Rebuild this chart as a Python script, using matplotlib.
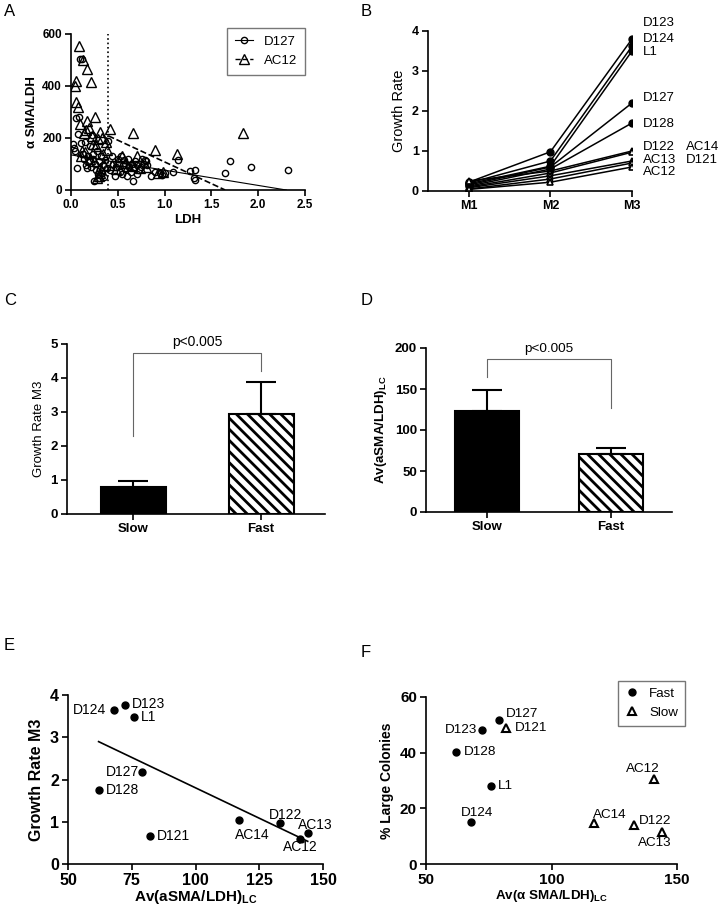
import numpy as np
import matplotlib.pyplot as plt

plt.rcParams['font.family'] = ['Liberation Sans', 'DejaVu Sans']
plt.rcParams['hatch.linewidth'] = 2.0
plt.rcParams['axes.linewidth'] = 1.2

# ---- panel A: aSMA/LDH vs LDH for two lines
d127_ldh = [0.02, 0.03, 0.04, 0.06, 0.05, 0.09, 0.08, 0.10, 0.12, 0.11, 0.13, 0.14, 0.15, 0.16,
            0.17, 0.18, 0.19, 0.20, 0.21, 0.22, 0.23, 0.24, 0.25, 0.26, 0.27, 0.28, 0.29, 0.30,
            0.30, 0.31, 0.32, 0.33, 0.34, 0.35, 0.36, 0.38, 0.40, 0.42, 0.44, 0.45, 0.47, 0.48,
            0.50, 0.52, 0.53, 0.55, 0.56, 0.57, 0.58, 0.60, 0.61, 0.62, 0.64, 0.65, 0.66, 0.67,
            0.68, 0.70, 0.71, 0.73, 0.75, 0.76, 0.78, 0.79, 0.80, 0.81, 0.85, 0.90, 0.95, 0.97,
            1.00, 1.09, 1.14, 1.27, 1.32, 1.31, 1.32, 1.65, 1.70, 1.92, 2.32]
d127_ratio = [175, 160, 150, 85, 275, 280, 215, 505, 505, 180, 140, 120, 185, 95,
              85, 130, 110, 170, 90, 210, 140, 120, 36, 100, 75, 150, 60, 46,
              110, 80, 130, 65, 95, 50, 115, 85, 190, 78, 130, 100, 52, 90,
              120, 70, 130, 60, 95, 115, 80, 55, 120, 90, 70, 100, 33, 85,
              110, 60, 95, 75, 90, 120, 100, 116, 110, 95, 52, 70, 65, 59,
              65, 69, 116, 74, 75, 46, 40, 65, 110, 87, 78]
ac12_ldh = [0.04, 0.05, 0.05, 0.07, 0.085, 0.125, 0.17, 0.21, 0.26, 0.17, 0.10, 0.42, 0.66,
            1.84, 0.31, 0.14, 0.22, 0.29, 0.37, 0.33, 0.90, 1.13, 0.38, 0.27, 0.15, 0.11,
            0.70, 0.54, 0.44, 0.93, 0.31, 0.61, 0.74, 0.31, 0.20, 0.12, 0.25, 0.35, 0.30,
            0.28, 0.50, 0.58, 0.65, 0.48, 0.80, 0.98, 0.34, 0.24, 0.19, 0.16]
ac12_ratio = [400, 421, 339, 321, 555, 500, 464, 416, 280, 264, 252, 234, 221,
              221, 222, 219, 209, 197, 184, 200, 155, 137, 155, 168, 148, 129,
              129, 129, 97, 65, 84, 91, 84, 65, 120, 150, 110, 95, 55,
              45, 110, 105, 95, 80, 90, 70, 140, 175, 240, 230]
d127_fit = (135.0, -58.7)    # intercept, slope
ac12_fit = (275.0, -167.0)
ldh_cut = 0.4

# ---- panel B: growth rate per month
b_names = ['D123', 'D124', 'L1', 'D127', 'D128', 'D122', 'AC14', 'AC13', 'D121', 'AC12']
b_m1 = [0.22, 0.20, 0.18, 0.15, 0.12, 0.25, 0.10, 0.08, 0.05, 0.04]
b_m2 = [0.98, 0.75, 0.62, 0.60, 0.55, 0.50, 0.45, 0.38, 0.30, 0.22]
b_m3 = [3.80, 3.62, 3.50, 2.20, 1.70, 1.00, 0.97, 0.75, 0.70, 0.60]
b_fast = [True, True, True, True, True, False, False, False, False, False]
months = ['M1', 'M2', 'M3']

# ---- panels C, D: group means
groups = ['Slow', 'Fast']
growth_mean = [0.80, 2.95]
growth_sem = [0.18, 0.93]
ratio_mean = [123, 71]
ratio_sem = [26, 7]

# ---- panels E, F: per sample
samples = ['D124', 'D123', 'L1', 'D127', 'D128', 'D121', 'AC14', 'D122', 'AC13', 'AC12']
av_ratio = [68.0, 72.5, 75.8, 79.0, 62.0, 82.0, 117.0, 133.0, 144.0, 141.0]
growth_m3 = [3.64, 3.76, 3.47, 2.17, 1.74, 0.67, 1.03, 0.96, 0.73, 0.60]
large_col = [15.2, 48.0, 28.2, 51.6, 40.4, 49.0, 14.6, 14.0, 11.4, 30.5]
f_fast = [True, True, True, True, True, False, False, False, False, False]

W, H = 718, 907
fig = plt.figure(figsize=(W / 100, H / 100), dpi=100)


def box(l, r, t, b):
    return [l / W, 1 - b / H, (r - l) / W, (b - t) / H]


def style(ax, fs):
    for s in ['top', 'right']:
        ax.spines[s].set_visible(False)
    ax.tick_params(direction='out', length=4, width=1.2, labelsize=fs, pad=2.5)
    for lab in ax.get_xticklabels() + ax.get_yticklabels():
        lab.set_fontweight('bold')


# A
ax = fig.add_axes(box(71, 305, 34, 190))
ax.plot(d127_ldh, d127_ratio, 'o', mfc='none', mec='k', ms=4.5, mew=1.0, label='D127')
ax.plot(ac12_ldh, ac12_ratio, '^', mfc='none', mec='k', ms=6.5, mew=1.0, label='AC12')
xs = np.array([0, -d127_fit[0] / d127_fit[1]])
ax.plot(xs, d127_fit[0] + d127_fit[1] * xs, 'k-', lw=0.8)
xs = np.array([ldh_cut, -ac12_fit[0] / ac12_fit[1]])
ax.plot(xs, ac12_fit[0] + ac12_fit[1] * xs, 'k--', lw=1.2)
ax.axvline(ldh_cut, color='k', ls=':', lw=1.2)
ax.set_xlim(0, 2.5)
ax.set_ylim(0, 600)
ax.set_xticks([0, 0.5, 1.0, 1.5, 2.0, 2.5])
ax.set_xticklabels(['0.0', '0.5', '1.0', '1.5', '2.0', '2.5'])
ax.set_yticks([0, 200, 400, 600])
style(ax, 8.5)
ax.set_xlabel('LDH', fontsize=9.5, fontweight='bold', labelpad=2)
ax.set_ylabel('α SMA/LDH', fontsize=9.5, fontweight='bold', labelpad=3)
h1, = ax.plot([], [], 'o-', mfc='none', mec='k', color='k', ms=4.5, lw=0.8)
h2, = ax.plot([], [], '^--', mfc='none', mec='k', color='k', ms=6.5, lw=1.0)
leg = ax.legend([h1, h2], ['D127', 'AC12'], loc='upper right', bbox_to_anchor=(1.0, 1.04),
                fontsize=9.5, fancybox=False, edgecolor='#555555', handlelength=1.4,
                borderaxespad=0, borderpad=0.6)
leg.get_frame().set_linewidth(1.0)
fig.text(4 / W, 1 - 16 / H, 'A', fontsize=12)

# B
ax = fig.add_axes(box(428, 632, 31, 191))
xm = np.arange(len(months))
for name, a, b, c, fast in zip(b_names, b_m1, b_m2, b_m3, b_fast):
    if fast:
        ax.plot(xm, [a, b, c], 'o-', color='k', ms=5, lw=1.1)
    else:
        ax.plot(xm, [a, b, c], '^-', color='k', mfc='white', ms=5, mew=1.2, lw=1.1)
b_label_pos = {'D123': (2.13, 4.2), 'D124': (2.13, 3.8), 'L1': (2.13, 3.47),
               'D127': (2.13, 2.32), 'D128': (2.13, 1.68), 'D122': (2.13, 1.11),
               'AC13': (2.13, 0.77), 'AC12': (2.13, 0.47), 'AC14': (2.66, 1.11),
               'D121': (2.66, 0.77)}
for name in b_names:
    px, py = b_label_pos[name]
    ax.text(px, py, name, fontsize=9.5, va='center', ha='left', clip_on=False)
ax.set_xlim(-0.5, 2.0)
ax.set_ylim(0, 4)
ax.set_xticks(xm)
ax.set_xticklabels(months)
ax.set_yticks([0, 1, 2, 3, 4])
style(ax, 9)
ax.set_ylabel('Growth Rate', fontsize=10.5)
fig.text(361 / W, 1 - 16 / H, 'B', fontsize=12)


def bars(ax, mean, sem):
    xg = np.arange(len(groups))
    ax.bar(xg[0], mean[0], width=0.51, color='k', edgecolor='k', lw=1.5)
    ax.bar(xg[1], mean[1], width=0.51, color='white', edgecolor='k', lw=1.5, hatch='\\\\\\')
    ax.errorbar(xg, mean, yerr=[np.zeros(len(mean)), sem], fmt='none', ecolor='k',
                elinewidth=1.5, capsize=11, capthick=1.5)
    ax.set_xticks(xg)
    ax.set_xticklabels(groups)


# C
ax = fig.add_axes(box(67, 325, 344, 514))
bars(ax, growth_mean, growth_sem)
ax.plot([0, 0, 1, 1], [2.3, 4.75, 4.75, 4.2], color='#666666', lw=0.8)
ax.text(0.5, 4.85, 'p<0.005', ha='center', va='bottom', fontsize=10)
ax.set_xlim(-0.52, 1.5)
ax.set_ylim(0, 5)
style(ax, 9.5)
ax.set_ylabel('Growth Rate M3', fontsize=9.5)
fig.text(4 / W, 1 - 305 / H, 'C', fontsize=12)

# D
ax = fig.add_axes(box(426, 672, 348, 512))
bars(ax, ratio_mean, ratio_sem)
ax.plot([0, 0, 1, 1], [165, 187, 187, 127], color='#666666', lw=0.8)
ax.text(0.5, 192, 'p<0.005', ha='center', va='bottom', fontsize=9.7)
ax.set_xlim(-0.49, 1.49)
ax.set_ylim(0, 200)
ax.set_yticks([0, 50, 100, 150, 200])
style(ax, 9.5)
ax.set_ylabel('Av(aSMA/LDH)$_{\\mathregular{LC}}$', fontsize=9.6, fontweight='bold')
fig.text(361 / W, 1 - 305 / H, 'D', fontsize=12)

# E
ax = fig.add_axes(box(68, 323, 695, 864))
ax.plot(av_ratio, growth_m3, 'o', color='k', ms=5)
k, c0 = np.polyfit(av_ratio, growth_m3, 1)
xs = np.array([min(av_ratio), max(av_ratio)])
ax.plot(xs, c0 + k * xs, 'k-', lw=1.2)
e_off = {'D124': (-5.5, 0, 'right'), 'D123': (5, 1, 'left'), 'L1': (5, 0, 'left'),
         'D127': (-2, 0, 'right'), 'D128': (5.3, 0, 'left'), 'D121': (5, 0, 'left'),
         'AC14': (9.6, -10.8, 'center'), 'D122': (4.5, 6, 'center'),
         'AC13': (5.3, 6.2, 'center'), 'AC12': (0, -6.2, 'center')}
for name, xv, yv in zip(samples, av_ratio, growth_m3):
    dx, dy, ha = e_off[name]
    ax.annotate(name, (xv, yv), xytext=(dx, dy), textcoords='offset points',
                ha=ha, va='center', fontsize=10)
ax.set_xlim(50, 150)
ax.set_ylim(0, 4)
ax.set_xticks([50, 75, 100, 125, 150])
ax.set_yticks([0, 1, 2, 3, 4])
style(ax, 11.5)
ax.set_xlabel('Av(aSMA/LDH)$_{\\mathregular{LC}}$', fontsize=11, fontweight='bold', labelpad=0)
ax.set_ylabel('Growth Rate M3', fontsize=11.5, fontweight='bold')
fig.text(4 / W, 1 - 650 / H, 'E', fontsize=12)

# F
ax = fig.add_axes(box(426, 677, 697, 864))
fx = [x for x, f in zip(av_ratio, f_fast) if f]
fy = [y for y, f in zip(large_col, f_fast) if f]
sx = [x for x, f in zip(av_ratio, f_fast) if not f]
sy = [y for y, f in zip(large_col, f_fast) if not f]
ax.plot(fx, fy, 'o', color='k', ms=5, label='Fast')
ax.plot(sx, sy, '^', color='k', mfc='white', ms=5.5, mew=1.5, label='Slow')
f_off = {'D127': (5, 4.3, 'left'), 'D123': (-4, 0, 'right'), 'D121': (6, 0, 'left'),
         'D128': (5.3, 0, 'left'), 'L1': (4.8, 0, 'left'), 'D124': (4.5, 6, 'center'),
         'AC12': (-8.6, 7, 'center'), 'AC14': (11.5, 6, 'center'), 'D122': (3.6, 3, 'left'),
         'AC13': (-5.5, -7.4, 'center')}
for name, xv, yv in zip(samples, av_ratio, large_col):
    dx, dy, ha = f_off[name]
    ax.annotate(name, (xv, yv), xytext=(dx, dy), textcoords='offset points',
                ha=ha, va='center', fontsize=9.7)
ax.set_xlim(50, 150)
ax.set_ylim(0, 60)
ax.set_xticks([50, 100, 150])
ax.set_yticks([0, 20, 40, 60])
style(ax, 11)
ax.set_xlabel('Av(α SMA/LDH)$_{\\mathregular{LC}}$', fontsize=9.6, fontweight='bold', labelpad=1)
ax.set_ylabel('% Large Colonies', fontsize=10, fontweight='bold')
leg = ax.legend(loc='upper right', bbox_to_anchor=(1.03, 1.096), fontsize=9.6, fancybox=False,
                edgecolor='#555555', handlelength=1.0, borderaxespad=0, borderpad=0.5)
leg.get_frame().set_linewidth(1.0)
fig.text(361 / W, 1 - 657 / H, 'F', fontsize=12)

fig.savefig('out.png', dpi=100)
